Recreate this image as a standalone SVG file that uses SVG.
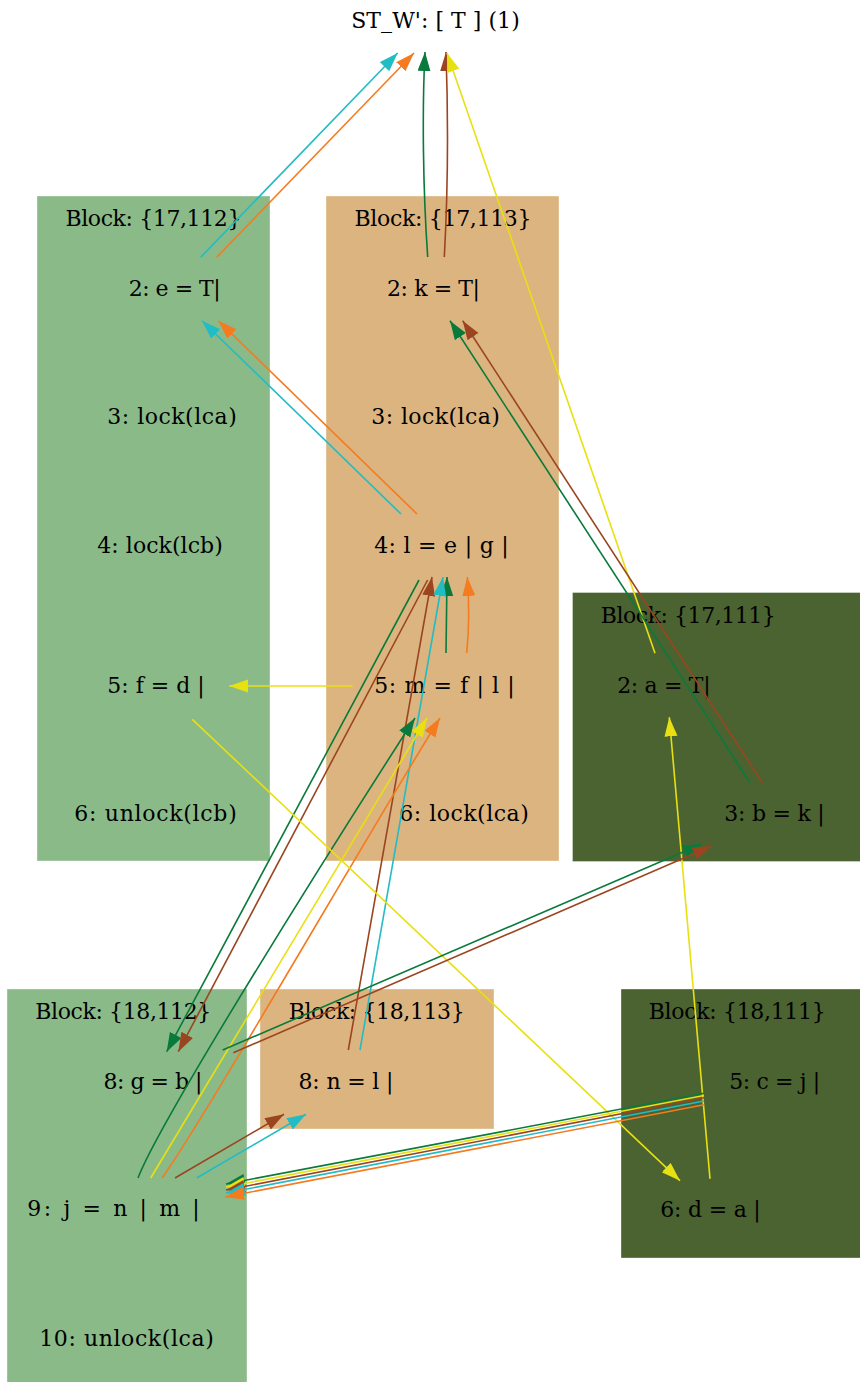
<svg xmlns="http://www.w3.org/2000/svg" width="860" height="1382" viewBox="0 0 860 1382">
<style>
text{font-family:"DejaVu Serif","Liberation Serif",serif;font-size:22px;fill:#000;text-anchor:middle}
.cl rect{stroke:#ffffff;stroke-opacity:0.35;stroke-width:1}
.g1{fill:#8bba89}.g2{fill:#dcb47f}.g3{fill:#4b6330}
#edges path{fill:none;stroke-width:1.6}
.cy{stroke:#22bcc4}.or{stroke:#f47b20}.gr{stroke:#0a7a3c}.br{stroke:#9b4520}.ye{stroke:#e8e010}
</style>
<defs>
<marker id="m-cy" markerUnits="userSpaceOnUse" markerWidth="20" markerHeight="14" refX="19" refY="6.5" orient="auto"><path d="M0,0L19,6.5L0,13z" fill="#22bcc4"/></marker>
<marker id="m-or" markerUnits="userSpaceOnUse" markerWidth="20" markerHeight="14" refX="19" refY="6.5" orient="auto"><path d="M0,0L19,6.5L0,13z" fill="#f47b20"/></marker>
<marker id="m-gr" markerUnits="userSpaceOnUse" markerWidth="20" markerHeight="14" refX="19" refY="6.5" orient="auto"><path d="M0,0L19,6.5L0,13z" fill="#0a7a3c"/></marker>
<marker id="m-br" markerUnits="userSpaceOnUse" markerWidth="20" markerHeight="14" refX="19" refY="6.5" orient="auto"><path d="M0,0L19,6.5L0,13z" fill="#9b4520"/></marker>
<marker id="m-ye" markerUnits="userSpaceOnUse" markerWidth="20" markerHeight="14" refX="19" refY="6.5" orient="auto"><path d="M0,0L19,6.5L0,13z" fill="#e8e010"/></marker>
</defs>
<rect width="860" height="1382" fill="#ffffff"/>
<g id="cluster_17_112" class="cl"><rect class="g1" x="37" y="196" width="233" height="665"/><text x="153.4" y="226" textLength="176" lengthAdjust="spacing">Block: {17,112}</text></g>
<g id="cluster_17_113" class="cl"><rect class="g2" x="326" y="196" width="233" height="665"/><text x="443" y="226" textLength="177" lengthAdjust="spacing">Block: {17,113}</text></g>
<g id="cluster_17_111" class="cl"><rect class="g3" x="572.5" y="592.5" width="290" height="269"/><text x="688.3" y="623" textLength="175" lengthAdjust="spacing">Block: {17,111}</text></g>
<g id="cluster_18_112" class="cl"><rect class="g1" x="7" y="989" width="240" height="396"/><text x="123.3" y="1019" textLength="176" lengthAdjust="spacing">Block: {18,112}</text></g>
<g id="cluster_18_113" class="cl"><rect class="g2" x="260" y="989" width="234" height="140"/><text x="376.7" y="1019" textLength="176" lengthAdjust="spacing">Block: {18,113}</text></g>
<g id="cluster_18_111" class="cl"><rect class="g3" x="621" y="989" width="242" height="269"/><text x="737.2" y="1019" textLength="177" lengthAdjust="spacing">Block: {18,111}</text></g>

<g id="n_st"><text x="435.5" y="28" textLength="168.5" lengthAdjust="spacing">ST_W': [ T ] (1)</text></g>
<g id="n_e2"><text x="174.7" y="296" textLength="92" lengthAdjust="spacing">2: e = T|</text></g>
<g id="n_e3"><text x="172" y="424" textLength="129.5" lengthAdjust="spacing">3: lock(lca)</text></g>
<g id="n_e4"><text x="160" y="553" textLength="125.5" lengthAdjust="spacing">4: lock(lcb)</text></g>
<g id="n_e5"><text x="156" y="693" textLength="97.5" lengthAdjust="spacing">5: f = d |</text></g>
<g id="n_e6"><text x="155.5" y="821" textLength="162.5" lengthAdjust="spacing">6: unlock(lcb)</text></g>
<g id="n_k2"><text x="433.5" y="296" textLength="93" lengthAdjust="spacing">2: k = T|</text></g>
<g id="n_k3"><text x="435.5" y="424" textLength="128.5" lengthAdjust="spacing">3: lock(lca)</text></g>
<g id="n_k4"><text x="441.5" y="553" textLength="134.5" lengthAdjust="spacing">4: l = e | g |</text></g>
<g id="n_k5"><text x="444.5" y="693" textLength="140.5" lengthAdjust="spacing">5: m = f | l |</text></g>
<g id="n_k6"><text x="464" y="821" textLength="129.5" lengthAdjust="spacing">6: lock(lca)</text></g>
<g id="n_a2"><text x="663.9" y="693" textLength="93.5" lengthAdjust="spacing">2: a = T|</text></g>
<g id="n_a3"><text x="774.5" y="821" textLength="100.5" lengthAdjust="spacing">3: b = k |</text></g>
<g id="n_g8"><text x="153" y="1089" textLength="99" lengthAdjust="spacing">8: g = b |</text></g>
<g id="n_g9"><text x="113.5" y="1216" textLength="172.5" lengthAdjust="spacing">9: j = n | m |</text></g>
<g id="n_g10"><text x="126.5" y="1346" textLength="174.5" lengthAdjust="spacing">10: unlock(lca)</text></g>
<g id="n_n8"><text x="346" y="1089" textLength="95" lengthAdjust="spacing">8: n = l |</text></g>
<g id="n_c5"><text x="774.7" y="1089" textLength="91" lengthAdjust="spacing">5: c = j |</text></g>
<g id="n_c6"><text x="710.5" y="1217" textLength="100.5" lengthAdjust="spacing">6: d = a |</text></g>

<g id="edges">
<path class="cy" marker-end="url(#m-cy)" d="M200.7,257.3L397.7,53"/>
<path class="or" marker-end="url(#m-or)" d="M216.7,257.3L414,53"/>
<path class="gr" marker-end="url(#m-gr)" d="M427.7,257C423,190 422,110 425,52"/>
<path class="br" marker-end="url(#m-br)" d="M444.3,257C448,190 448,110 446,52"/>
<path class="ye" marker-end="url(#m-ye)" d="M655,653.3L447,53"/>
<path class="cy" marker-end="url(#m-cy)" d="M401,514L202,320.7"/>
<path class="or" marker-end="url(#m-or)" d="M417,514L218.3,320.7"/>
<path class="gr" marker-end="url(#m-gr)" d="M750,782.7L450,320.7"/>
<path class="br" marker-end="url(#m-br)" d="M762.3,782.7L462.7,320.7"/>
<path class="br" marker-end="url(#m-br)" d="M348.3,1050L432,577"/>
<path class="gr" marker-end="url(#m-gr)" d="M446,653L447,577"/>
<path class="cy" marker-end="url(#m-cy)" d="M360,1050L443,577"/>
<path class="or" marker-end="url(#m-or)" d="M466.7,653C469,630 469.5,605 467.3,577"/>
<path class="gr" marker-end="url(#m-gr)" d="M419,580L166.7,1051.7"/>
<path class="br" marker-end="url(#m-br)" d="M427.6,580L178.3,1051.7"/>
<path class="gr" marker-end="url(#m-gr)" d="M138,1178C160,1120 330,850 415,718"/>
<path class="ye" marker-end="url(#m-ye)" d="M150.7,1178L427,718"/>
<path class="or" marker-end="url(#m-or)" d="M162,1178C210,1110 370,830 440,718"/>
<path class="ye" marker-end="url(#m-ye)" d="M352.7,686L229.3,686"/>
<path class="ye" marker-end="url(#m-ye)" d="M192.3,719.3L680,1180.7"/>
<path class="ye" marker-end="url(#m-ye)" d="M710,1178.7L669.3,717.3"/>
<path class="gr" marker-end="url(#m-gr)" d="M222.7,1050L701.7,844"/>
<path class="br" marker-end="url(#m-br)" d="M233.3,1052.7L711.7,846"/>
<path class="br" marker-end="url(#m-br)" d="M175,1178L284,1114.3"/>
<path class="cy" marker-end="url(#m-cy)" d="M196.7,1178L306,1114.3"/>
<path class="gr" marker-end="url(#m-gr)" d="M704,1093.3L226,1184"/>
<path class="ye" marker-end="url(#m-ye)" d="M704,1095.5L226,1187"/>
<path class="br" marker-end="url(#m-br)" d="M704,1097.8L226,1190"/>
<path class="cy" marker-end="url(#m-cy)" d="M704,1101L226,1193"/>
<path class="or" marker-end="url(#m-or)" d="M704,1104.7L225,1197"/>
</g>
</svg>
